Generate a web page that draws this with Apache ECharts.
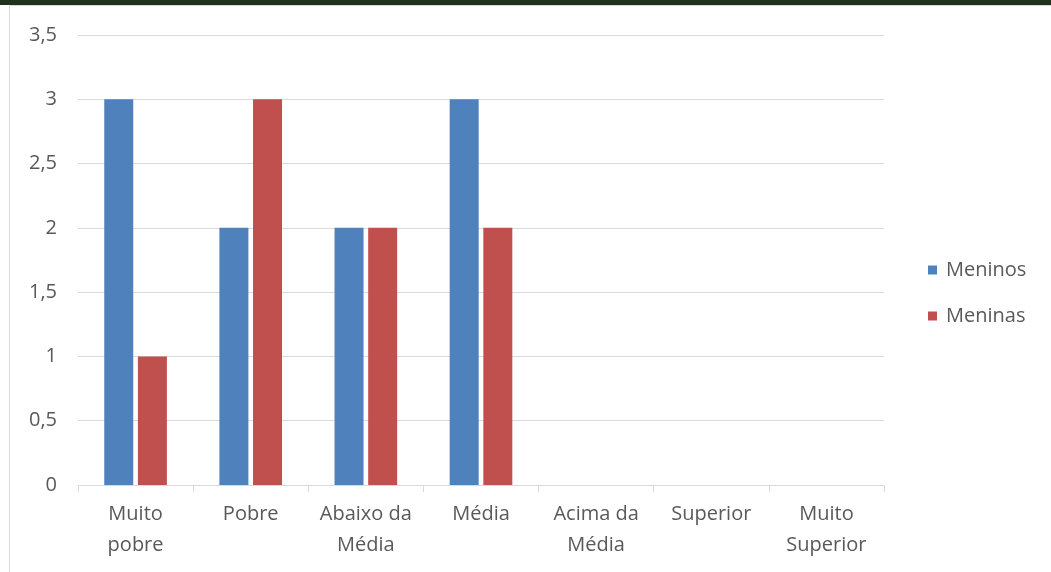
<!DOCTYPE html>
<html><head><meta charset="utf-8">
<script src="https://cdn.jsdelivr.net/npm/echarts@6/dist/echarts.min.js"></script>
<style>html,body{margin:0;padding:0;background:#fff}#c{width:1051px;height:572px}</style>
</head><body><div id="c"></div>
<script>
const categories = ["Muito\npobre", "Pobre", "Abaixo da\nMédia", "Média", "Acima da\nMédia", "Superior", "Muito\nSuperior"];
const meninos = [3, 2, 2, 3, 0, 0, 0];
const meninas = [1, 3, 2, 2, 0, 0, 0];
const seriesNames = ["Meninos", "Meninas"];

const FONT = "Open Sans";
const FS = 20;
const chart = echarts.init(document.getElementById('c'), null, {renderer: 'canvas'});
chart.setOption({
  animation: false,
  backgroundColor: '#ffffff',
  textStyle: {fontFamily: FONT},
  graphic: [
    {type: 'rect', shape: {x: 9.5, y: 5.5, width: 1100, height: 700}, style: {fill: '#ffffff', stroke: '#d9d9d9', lineWidth: 1}, z: -10, silent: true},
    {type: 'rect', shape: {x: 0, y: 0, width: 1051, height: 5}, style: {fill: '#1f321d'}, z: 10, silent: true}
  ],
  grid: {left: 78, right: 167, top: 35, bottom: 87, containLabel: false},
  legend: {
    orient: 'vertical', left: 923, top: 255,
    itemWidth: 9, itemHeight: 9, itemGap: 26,
    icon: 'rect',
    textStyle: {fontFamily: FONT, fontSize: FS, color: '#595959', padding: [0, 0, 0, 4]},
    data: seriesNames
  },
  xAxis: {
    type: 'category', data: categories,
    axisLine: {show: true, lineStyle: {color: '#d9d9d9', width: 1}},
    axisTick: {show: true, length: 7, lineStyle: {color: '#d9d9d9'}},
    axisLabel: {fontFamily: FONT, fontSize: FS, color: '#595959', lineHeight: 31, margin: 14, interval: 0}
  },
  yAxis: {
    type: 'value', min: 0, max: 3.5, interval: 0.5,
    axisLine: {show: false}, axisTick: {show: false},
    splitLine: {lineStyle: {color: '#d9d9d9', width: 1}},
    axisLabel: {fontFamily: FONT, fontSize: FS, color: '#595959', margin: 21,
      formatter: v => String(v).replace('.', ',')}
  },
  series: [
    {name: seriesNames[0], type: 'bar', data: meninos, barWidth: 29, barGap: '16%', itemStyle: {color: '#4f81bd'}},
    {name: seriesNames[1], type: 'bar', data: meninas, barWidth: 29, barGap: '16%', itemStyle: {color: '#c0504d'}}
  ]
});
</script></body></html>
